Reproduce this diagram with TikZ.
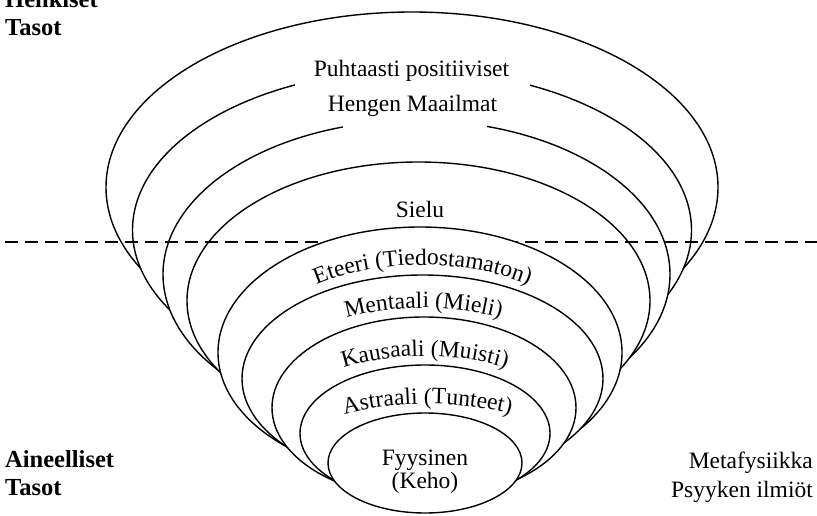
\documentclass[tikz,border=0pt]{standalone}
\usepackage{fontspec}
\setmainfont{Liberation Serif}
\usetikzlibrary{decorations.text}
\newcommand\curvefont{\fontsize{23.5}{28}\selectfont}
\begin{document}
\begin{tikzpicture}[x=1pt,y=-1pt,
  shell/.style={draw=black, fill=white, line width=1.4pt},
  gap/.style={fill=white},
  lbl/.style={font=\fontsize{23.5}{28}\selectfont, inner sep=0pt},
  side/.style={font=\fontsize{24.5}{28}\selectfont\bfseries, inner sep=0pt},
  divider/.style={line width=2pt, dash pattern=on 13pt off 7pt},
  curved/.style={decorate, decoration={text along path, text align=center, text={|\curvefont|#1}}}]
\fill[white] (0,0) rectangle (817,516);
\useasboundingbox (0,0) rectangle (817,516);

% outer shells (spirit levels)
\draw[shell] (412,187.3) ellipse [x radius=306, y radius=175.3];
\draw[shell] (412,230.1) ellipse [x radius=279.5, y radius=159.8];
\draw[shell] (416.5,274.3) ellipse [x radius=253.5, y radius=153.9];
\draw[shell] (418.5,300.7) ellipse [x radius=231.5, y radius=138.7];
\fill[gap] (295,66) rectangle (530,91);
\fill[gap] (343,110) rectangle (487,131);

% dividing line
\coordinate (dl) at (5,242);
\coordinate (dr) at (817,242);
\draw[divider] (dl) -- (dr);

% inner shells
\draw[shell] (420,352.5) ellipse [x radius=202, y radius=125.5];
\draw[shell] (422.5,378.6) ellipse [x radius=180.5, y radius=103.6];
\draw[shell] (424,407.7) ellipse [x radius=152, y radius=90.7];
\draw[shell] (425,433.4) ellipse [x radius=125, y radius=68.4];
\draw[shell] (425,463) ellipse [x radius=97, y radius=50];

% labels
\node[lbl, anchor=base] (puht) at (411.5,77) {Puhtaasti positiiviset};
\node[lbl, anchor=base] (hengen) at (412.5,112) {Hengen Maailmat};
\node[lbl, anchor=base] (sielu) at (420,218) {Sielu};
\node[lbl, anchor=base] (fyys) at (425,465) {Fyysinen};
\node[lbl, anchor=base] (keho) at (425,488) {(Keho)};
\node[side, anchor=base west] (henk) at (5,8) {Henkiset};
\node[side, anchor=base west] (tas1) at (5,36) {Tasot};
\node[side, anchor=base west] (aine) at (5,467) {Aineelliset};
\node[side, anchor=base west] (tas2) at (5,495) {Tasot};
\node[lbl, anchor=base east] (meta) at (813,468) {Metafysiikka};
\node[lbl, anchor=base east] (psyk) at (813,497) {Psyyken ilmiöt};

% curved labels
\path[curved={Eteeri (Tiedostamaton)}] (252.9,333.2) arc[start angle=200, end angle=340, x radius=180.5, y radius=103.6];
\path[curved={Mentaali (Mieli)}] (273.1,360.6) arc[start angle=200, end angle=340, x radius=160, y radius=80];
\path[curved={Kausaali (Muisti)}] (284.0,405.35) arc[start angle=200, end angle=340, x radius=150, y radius=75];
\path[curved={Astraali (Tunteet)}] (277.1,450.1) arc[start angle=200, end angle=340, x radius=160, y radius=70];
\end{tikzpicture}
\end{document}
